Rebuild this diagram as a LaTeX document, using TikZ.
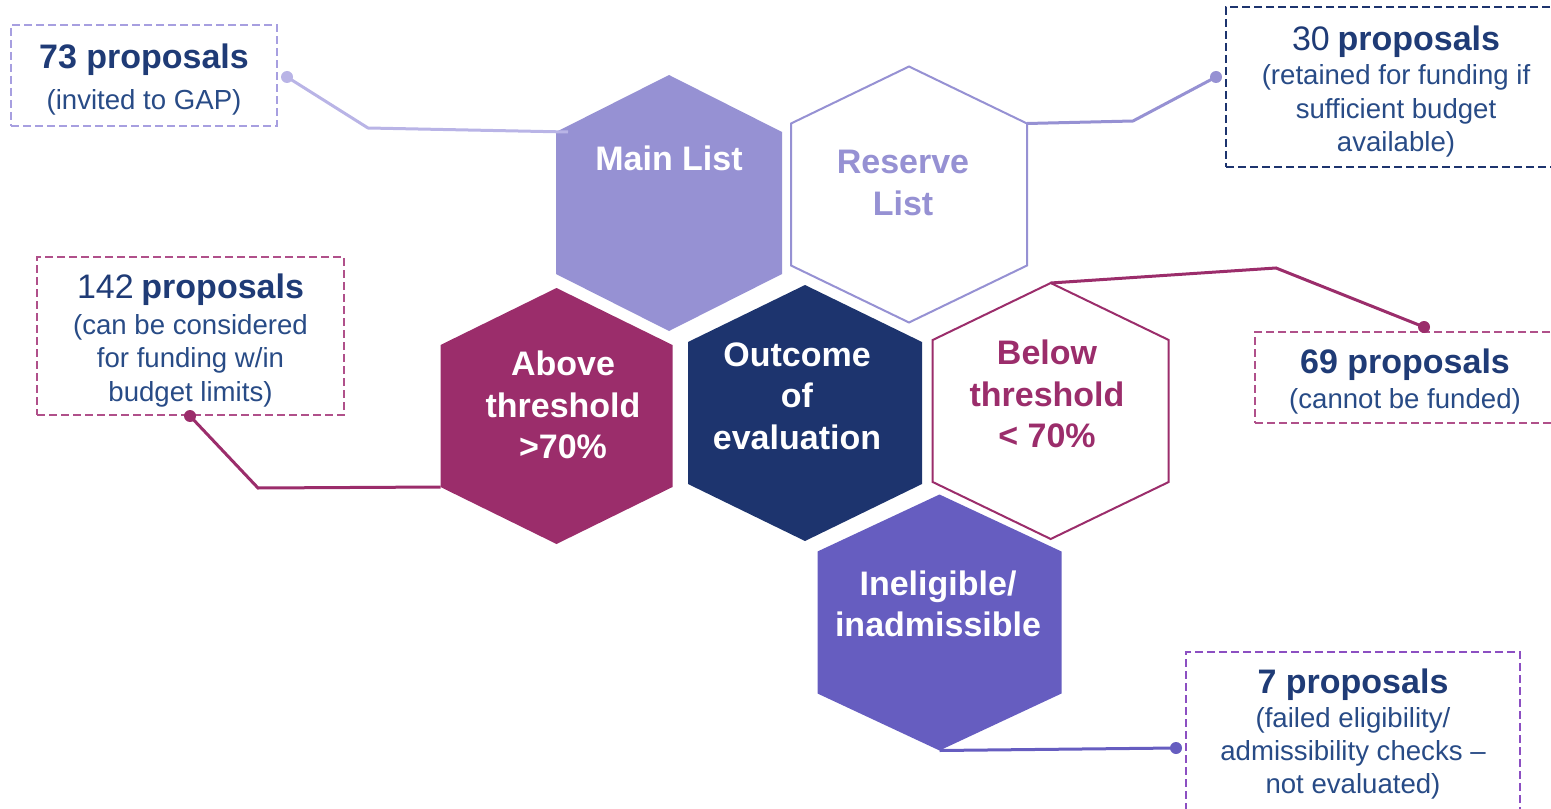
\documentclass[tikz,border=0pt]{standalone}
\usepackage{fontspec}
\setmainfont{Liberation Sans}
\usetikzlibrary{calc}

\definecolor{lavender}{HTML}{9691D3}
\definecolor{lavlight}{HTML}{B9B4E6}
\definecolor{lavdash}{HTML}{A79FE0}
\definecolor{plum}{HTML}{9B2D6B}
\definecolor{plumdash}{HTML}{B0508A}
\definecolor{navy}{HTML}{1D346E}
\definecolor{iris}{HTML}{665DC0}
\definecolor{irisdash}{HTML}{8C4FC2}
\definecolor{inktitle}{HTML}{1F3B76}
\definecolor{inkbody}{HTML}{284B86}

\newcommand{\ttl}{\bfseries\fontsize{25.5}{31}\selectfont\color{inktitle}}
\newcommand{\ttlreg}{\fontsize{25.5}{31}\selectfont\color{inktitle}}
\newcommand{\topstrut}{\rule{0pt}{25pt}}
% hexagon round a centre coordinate, corners named (#2-n), (#2-ne), ...
\def\hexcell[#1](#2)#3{\draw[#1] ($(#2)+(0,-128)$) coordinate (#2-n) -- ($(#2)+(#3,-71)$) coordinate (#2-ne) -- ($(#2)+(#3,71)$) coordinate (#2-se) -- ($(#2)+(0,128)$) coordinate (#2-s) -- ($(#2)+(-#3,71)$) coordinate (#2-sw) -- ($(#2)+(-#3,-71)$) coordinate (#2-nw) -- cycle;}

\tikzset{
  hexlabel/.style={font=\bfseries\fontsize{25.5}{31}\selectfont, align=center, inner sep=0pt},
  countbox/.style={draw, dash pattern=on 6pt off 3pt, line width=1pt, inner sep=0pt, align=center, text=inkbody, font=\fontsize{20.7}{25}\selectfont},
  link/.style={line width=2.25pt},
  hexfill/.style={draw=none, fill=#1},
  hexline/.style={line width=1.5pt, fill=white, draw=#1}
}

\begin{document}
\begin{tikzpicture}[x=0.75pt, y=-0.75pt]
  \clip (0,0) rectangle (1551,809);

  \coordinate (main) at (669,203);
  \coordinate (reserve) at (909,194.5);
  \coordinate (above) at (556.5,416);
  \coordinate (outcome) at (805,413);
  \coordinate (below) at (1050.7,411);
  \coordinate (inelig) at (939.5,622.5);

  \hexcell[hexfill=lavender](main){113}
  \hexcell[hexline=lavender](reserve){118}
  \hexcell[hexfill=plum](above){116}
  \hexcell[hexfill=navy](outcome){117}
  \hexcell[hexline=plum](below){118}
  \hexcell[hexfill=iris](inelig){122}

  \node[hexlabel, text=white] (mainlbl) at (669,158) {Main List};
  \node[hexlabel, text=lavender] (reservelbl) at (903,183) {Reserve\\List};
  \node[hexlabel, text=white] (abovelbl) at (563,405) {Above\\threshold\\>70\%};
  \node[hexlabel, text=white] (outcomelbl) at (797,396) {Outcome\\of\\evaluation};
  \node[hexlabel, text=plum] (belowlbl) at (1047,394) {Below\\threshold\\< 70\%};
  \node[hexlabel, text=white] (ineliglbl) at (938,604) {Ineligible/\\inadmissible};

  \node[countbox, draw=lavdash, minimum width=199.5pt, minimum height=75.75pt] (b73) at (144,75.5)
    {\topstrut{\ttl 73 proposals}\\[6pt](invited to GAP)};
  \node[countbox, draw=navy, minimum width=255pt, minimum height=120pt] (b30) at (1396,87)
    {\topstrut{\ttlreg 30} {\ttl proposals}\\[1pt](retained for funding if\\sufficient budget\\available)};
  \node[countbox, draw=plumdash, minimum width=230.25pt, minimum height=118.5pt] (b142) at (190.5,336)
    {\topstrut{\ttlreg 142} {\ttl proposals}\\[2pt](can be considered\\for funding w/in\\budget limits)};
  \node[countbox, draw=plumdash, minimum width=225pt, minimum height=68.25pt] (b69) at (1405,377.5)
    {\topstrut{\ttl 69 proposals}\\[1pt](cannot be funded)};
  \node[countbox, draw=irisdash, minimum width=250.5pt, minimum height=123.75pt] (b7) at (1353,734.5)
    {{\ttl 7 proposals}\\(failed eligibility/\\admissibility checks --\\not evaluated)};

  \coordinate (d73) at (287,77);
  \coordinate (d30) at (1216,77);
  \coordinate (d142) at (190,416);
  \coordinate (d69) at (1424,327);
  \coordinate (d7) at (1176,748);

  \draw[link, lavlight] (d73) -- (368,128) -- ($(main-nw)+(12,0)$);
  \fill[lavlight] (d73) circle[radius=4.5pt];
  \draw[link, lavender] (d30) -- (1133,121) -- (reserve-ne);
  \fill[lavender] (d30) circle[radius=4.5pt];
  \draw[link, plum] (d142) -- (258,488) -- (above-sw);
  \fill[plum] (d142) circle[radius=4.5pt];
  \draw[link, plum] (d69) -- (1276,268) -- (below-n);
  \fill[plum] (d69) circle[radius=4.5pt];
  \draw[link, iris] (d7) -- (inelig-s);
  \fill[iris] (d7) circle[radius=4.5pt];
\end{tikzpicture}
\end{document}
